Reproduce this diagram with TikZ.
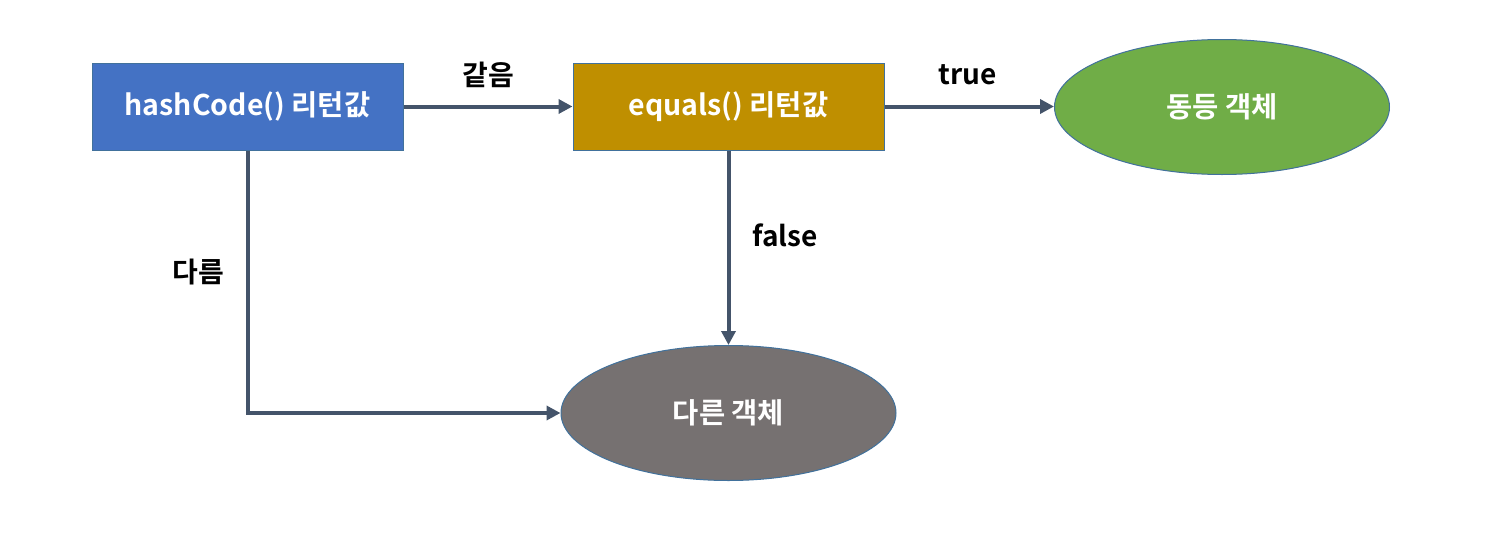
\documentclass[tikz,border=0pt]{standalone}
\usepackage{fontspec}
\setmainfont{Noto Sans CJK KR}[BoldFont={* Bold}]
\usetikzlibrary{shapes.geometric,arrows.meta}
\definecolor{cblue}{HTML}{4472C4}
\definecolor{cgold}{HTML}{BF8F00}
\definecolor{cgreen}{HTML}{70AD47}
\definecolor{cgray}{HTML}{767171}
\definecolor{cline}{HTML}{44546A}
\definecolor{cborder}{HTML}{41719C}
\begin{document}
\begin{tikzpicture}[x=1pt,y=-1pt,
  boxnode/.style={draw=cborder,line width=1pt,minimum width=311pt,minimum height=87pt,inner sep=0pt,text=white,font=\fontsize{28.5}{32}\selectfont\bfseries},
  ellnode/.style={ellipse,draw=cborder,line width=1pt,minimum width=335pt,minimum height=135pt,inner sep=0pt,text=white,font=\fontsize{28.5}{32}\selectfont\bfseries},
  conn/.style={draw=cline,line width=4pt,-{Triangle[length=14pt,width=14pt]}},
  lbl/.style={font=\fontsize{28}{32}\selectfont\bfseries,text=black}]
\useasboundingbox (0,0) rectangle (1492,541);
\node[boxnode,fill=cblue] (hash) at (247.5,106.5) {hashCode() 리턴값};
\node[boxnode,fill=cgold] (eq) at (728.5,106.5) {equals() 리턴값};
\node[ellnode,fill=cgreen] (same) at (1222,107) {동등 객체};
\node[ellnode,fill=cgray] (diff) at (728.5,413) {다른 객체};
\coordinate (corner) at (hash.south |- diff.west);
\draw[conn] (hash.east) -- (eq.west);
\draw[conn] (eq.east) -- (eq.east -| same.west);
\draw[conn] (eq.south) -- (diff.north);
\draw[conn] (hash.south) -- (corner) -- (diff.west);
\node[lbl] (l1) at (488,75) {같음};
\node[lbl] (l2) at (968,75) {true};
\node[lbl] (l3) at (785,235) {false};
\node[lbl] (l4) at (198,272) {다름};
\end{tikzpicture}
\end{document}
